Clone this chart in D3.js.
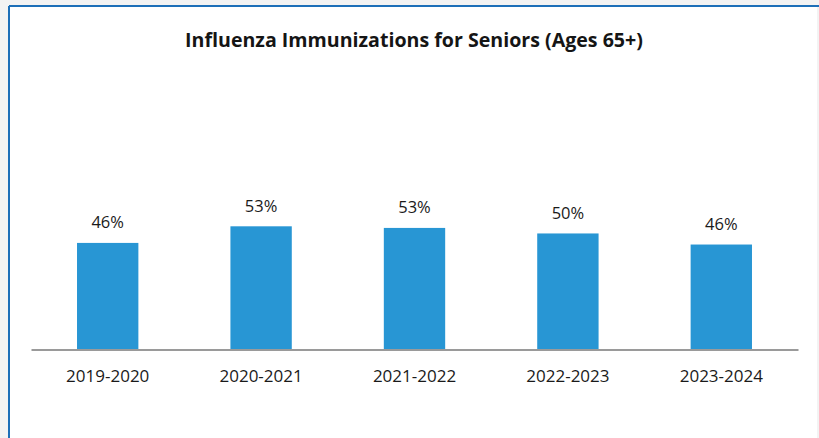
<!DOCTYPE html>
<html><head><meta charset="utf-8">
<script src="https://cdn.jsdelivr.net/npm/d3@7"></script>
<style>html,body{margin:0;padding:0;background:#f3f3f3;}svg{display:block;}</style>
</head><body>
<svg id="chart" width="819" height="438"></svg>
<script>
const title = "Influenza Immunizations for Seniors (Ages 65+)";
const categories = ["2019-2020","2020-2021","2021-2022","2022-2023","2023-2024"];
const values = [46.2, 53.4, 52.7, 50.3, 45.5];
const valueLabels = ["46%","53%","53%","50%","46%"];

const svg = d3.select("#chart");
const W = 819, H = 438;
// frame
svg.append("rect").attr("x",9).attr("y",6).attr("width",W-11).attr("height",H-6).attr("fill","#ffffff");
svg.append("line").attr("x1",9).attr("x2",W).attr("y1",6).attr("y2",6).attr("stroke","#1d6fb8").attr("stroke-width",2);
svg.append("line").attr("x1",9).attr("x2",9).attr("y1",6).attr("y2",H).attr("stroke","#1d6fb8").attr("stroke-width",2);

const x = d3.scaleBand().domain(categories).range([31,798]).paddingInner(0.6).paddingOuter(0.3);
const y = d3.scaleLinear().domain([0,100]).range([349.5, 349.5-230.7]);

svg.append("text").attr("x",414).attr("y",47).attr("text-anchor","middle")
  .attr("font-family","Open Sans").attr("font-weight","bold").attr("font-size",19.6)
  .attr("fill","#151515").text(title);

svg.selectAll("rect.bar").data(values).join("rect").attr("class","bar")
  .attr("x",(d,i)=>x(categories[i])).attr("width",x.bandwidth())
  .attr("y",d=>y(d)).attr("height",d=>y(0)-y(d)).attr("fill","#2896d4");

svg.selectAll("text.val").data(values).join("text").attr("class","val")
  .attr("x",(d,i)=>x(categories[i])+x.bandwidth()/2).attr("y",d=>y(d)-14.5)
  .attr("text-anchor","middle").attr("font-family","Open Sans").attr("font-size",16.5)
  .attr("fill","#1a1a1a").text((d,i)=>valueLabels[i]);

const axis = d3.axisBottom(x).tickSize(0).tickPadding(20);
const g = svg.append("g").attr("transform",`translate(0,${y(0)})`).call(axis);
g.select(".domain").attr("stroke","#9a9a9a").attr("stroke-width",2);
g.selectAll("text").attr("font-family","Open Sans").attr("font-size",17).attr("font-weight",500).attr("fill","#1a1a1a");
</script>
</body></html>
